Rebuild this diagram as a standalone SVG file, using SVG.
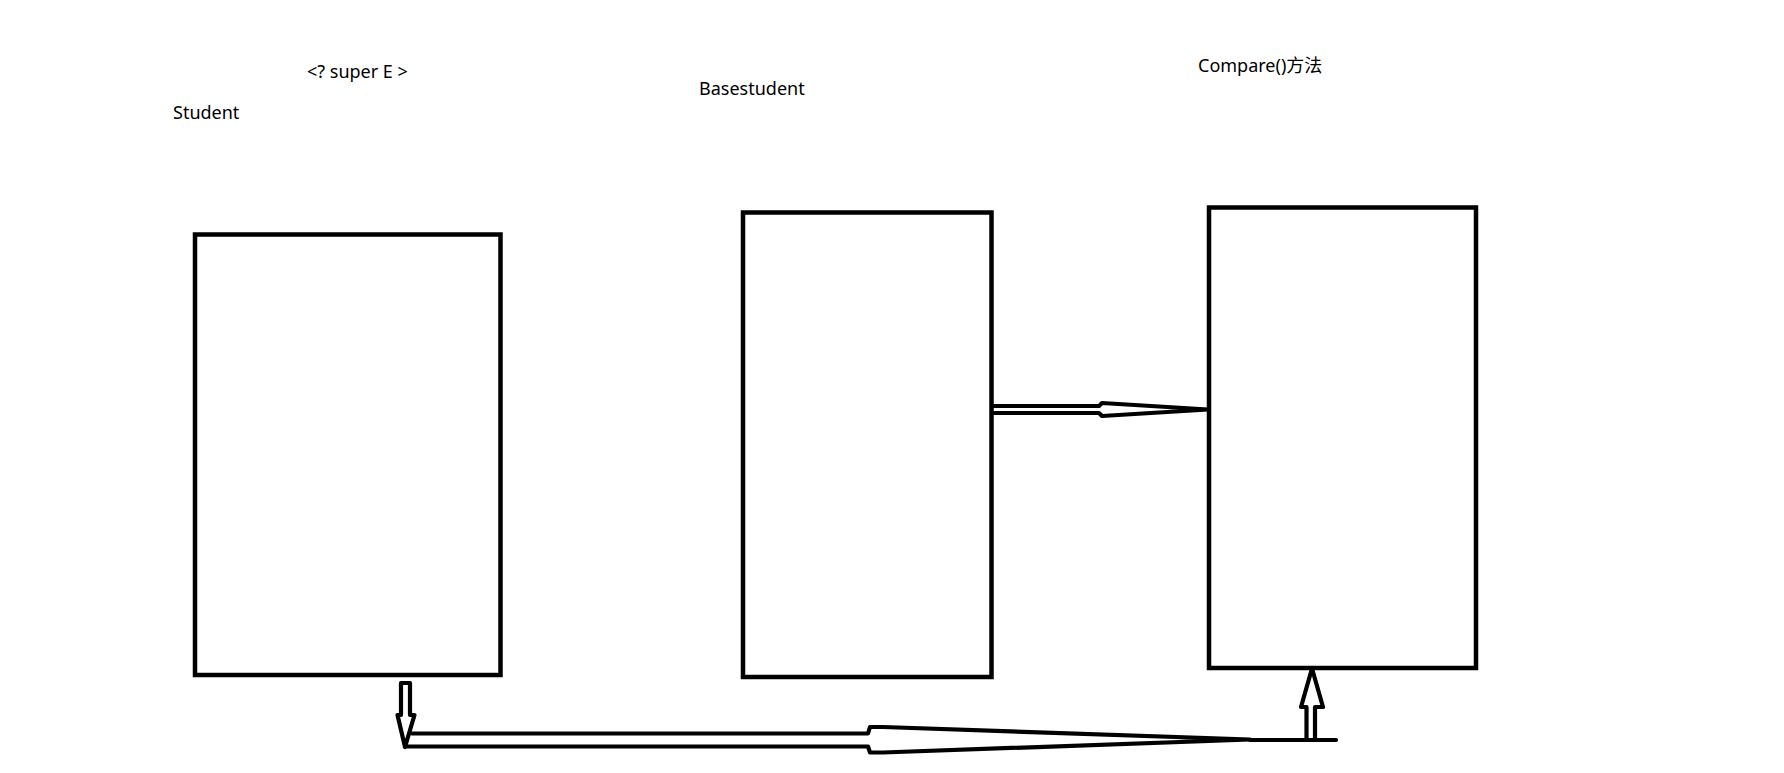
<svg xmlns="http://www.w3.org/2000/svg" width="1784" height="773" viewBox="0 0 1784 773">
<style>
.box{fill:#fff;stroke:#000;stroke-width:4.5}
.ln{fill:none;stroke:#000;stroke-width:4.2;stroke-linejoin:round;stroke-linecap:round}
.lbl{font-family:"Noto Sans","Noto Sans CJK SC",sans-serif;font-size:18px;fill:#000}
</style>
<rect width="1784" height="773" fill="#fff"/>
<g id="labels">
<text class="lbl" x="307" y="78">&lt;? super E &gt;</text>
<text class="lbl" x="173" y="119">Student</text>
<text class="lbl" x="699" y="95">Basestudent</text>
<text class="lbl" x="1198" y="72">Compare()方法</text>
</g>
<g id="node-student"><rect class="box" x="195" y="234.5" width="305.5" height="440.5"/></g>
<g id="node-basestudent"><rect class="box" x="743" y="212.5" width="248.5" height="464.5"/></g>
<g id="node-compare"><rect class="box" x="1209" y="207.5" width="267" height="460.5"/></g>
<g id="connectors">
<path class="ln" d="M993,406 L1099,406 L1102,403 L1208,409.5 L1102,416 L1099,413 L993,413"/>
<path class="ln" d="M401,715 L401,683 L410,683 L410,715 L414.5,715 L405,747 L397.5,715 Z"/>
<path class="ln" d="M412,733.5 L868,733.5 L870,727 L883,727 L1250,739.5 L883,752.5 L870,752.5 L868,746.5 L407,746.5"/>
<path class="ln" d="M1250,740 L1336,740"/>
<path class="ln" d="M1306.5,740 L1306.5,707 L1301,707 L1312,668.5 L1323,707 L1315,707 L1315,740"/>
</g>
</svg>
